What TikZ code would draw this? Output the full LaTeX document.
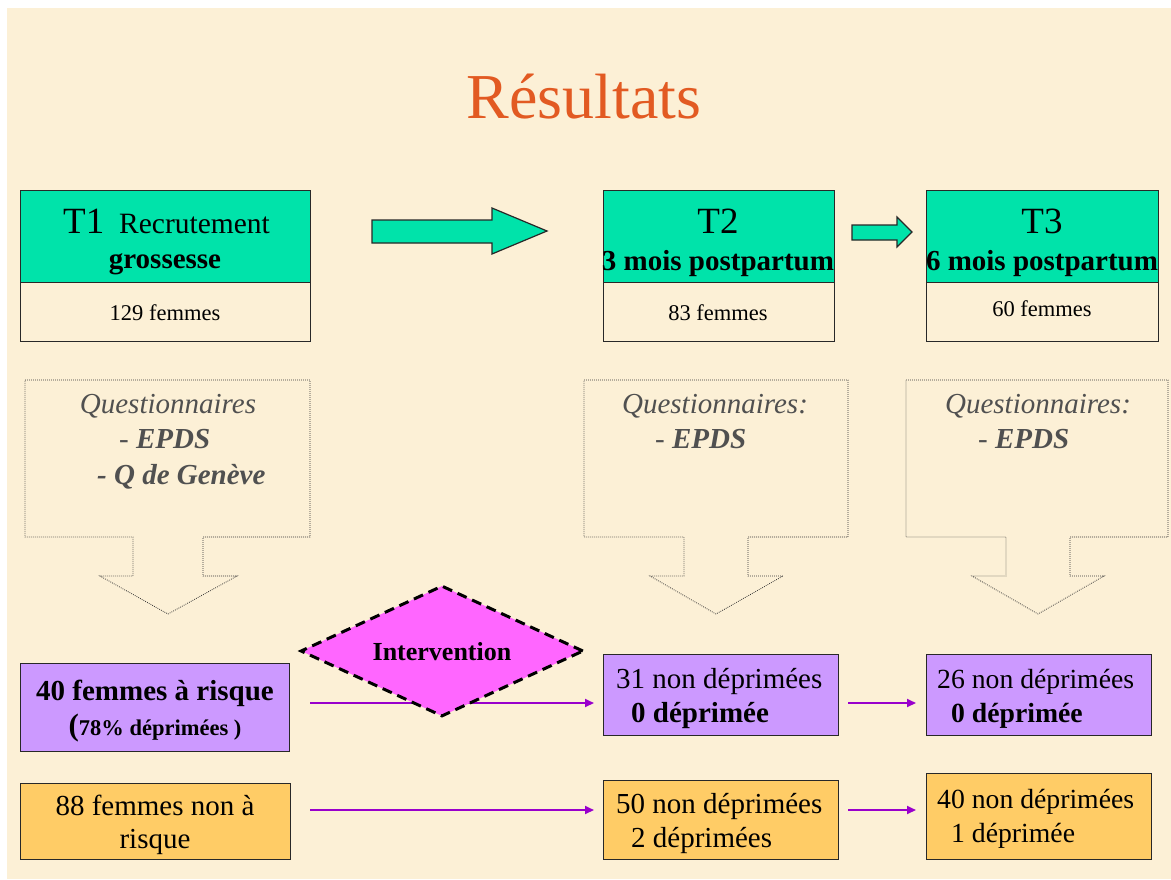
\documentclass[tikz,border=0pt]{standalone}
\usepackage{fontspec}
\setmainfont{Liberation Serif}
\usetikzlibrary{shapes.geometric,arrows.meta}
\newcommand\myfs[1]{\fontsize{#1}{#1}\selectfont}
\definecolor{bgc}{RGB}{252,240,214}
\definecolor{tgreen}{RGB}{0,227,170}
\definecolor{tpurple}{RGB}{204,153,255}
\definecolor{torange}{RGB}{255,204,102}
\definecolor{tmagenta}{RGB}{255,102,255}
\definecolor{arrowc}{RGB}{153,0,204}
\definecolor{titlec}{RGB}{226,90,34}
\definecolor{grayt}{RGB}{80,80,80}
\definecolor{bordc}{RGB}{40,40,40}
\definecolor{dotc}{RGB}{50,50,50}
\tikzset{
  box/.style={draw=bordc, line width=1.3pt, inner sep=0pt, anchor=north west},
  txt/.style={inner sep=0pt, anchor=base},
  txtw/.style={inner sep=0pt, anchor=base west},
  blockarrow/.style={draw=bordc, line width=1.2pt, fill=tgreen},
  callout/.style={draw=dotc, line width=0.8pt, dash pattern=on 0.8pt off 1.2pt},
  parrow/.style={draw=arrowc, line width=1.8pt, -{Triangle[length=9pt,width=8pt]}},
  qtext/.style={txt, text=grayt, font=\myfs{29}\itshape}
}
\begin{document}
\begin{tikzpicture}[x=1pt,y=-1pt]
\useasboundingbox (0,0) rectangle (1171,879);
\fill[white] (0,0) rectangle (1171,879);
\fill[bgc] (7,8) rectangle (1171,879);

% title
\node[txt, text=titlec, font=\myfs{64}] (title) at (584,118) {Résultats};

% T boxes
\node[box, fill=tgreen, minimum width=290pt, minimum height=92pt] (t1a) at (20,190) {};
\node[box, minimum width=290pt, minimum height=59pt] (t1b) at (20,282) {};
\node[box, fill=tgreen, minimum width=231pt, minimum height=92pt] (t2a) at (603,190) {};
\node[box, minimum width=231pt, minimum height=59pt] (t2b) at (603,282) {};
\node[box, fill=tgreen, minimum width=232pt, minimum height=92pt] (t3a) at (926,190) {};
\node[box, minimum width=232pt, minimum height=59pt] (t3b) at (926,282) {};

\node[txtw, font=\myfs{37}] (t1lab) at (63,233) {T1};
\node[txtw, font=\myfs{29.5}] (t1rec) at (119,233) {Recrutement};
\node[txt, font=\myfs{29}\bfseries] (t1gro) at (165,268) {grossesse};
\node[txt, font=\myfs{22.5}] (t1n) at (165,320) {129 femmes};

\node[txt, font=\myfs{37}] (t2lab) at (718,233) {T2};
\node[txt, font=\myfs{29}\bfseries] (t2sub) at (718,270) {3 mois postpartum};
\node[txt, font=\myfs{22.5}] (t2n) at (718,320) {83 femmes};

\node[txt, font=\myfs{37}] (t3lab) at (1042,233) {T3};
\node[txt, font=\myfs{29}\bfseries] (t3sub) at (1042,270) {6 mois postpartum};
\node[txt, font=\myfs{22.5}] (t3n) at (1042,316) {60 femmes};

% block arrows
\draw[blockarrow] (372,220) -- (492,220) -- (492,208) -- (547,231) -- (492,254) -- (492,243) -- (372,243) -- cycle;
\draw[blockarrow] (852,225) -- (897,225) -- (897,217) -- (912,232) -- (897,247) -- (897,240) -- (852,240) -- cycle;

% callouts
\draw[callout] (25,380) -- (310,380) -- (310,537) -- (203,537) -- (203,576) -- (237,576) -- (168,614) -- (100,576) -- (133,576) -- (133,537) -- (25,537) -- cycle;
\draw[callout] (584,380) -- (848,380) -- (848,537) -- (748,537) -- (748,576) -- (783,576) -- (716,614) -- (650,576) -- (684,576) -- (684,537) -- (584,537) -- cycle;
\draw[callout] (906,380) -- (1168,380) -- (1168,537) -- (1070,537) -- (1070,576) -- (1104,576) -- (1038,614) -- (972,576) -- (1006,576) -- (1006,537) -- (906,537) -- cycle;

\node[qtext] (q1) at (168,413) {Questionnaires};
\node[qtext, anchor=base west] (q1a) at (119,448) {- \textbf{EPDS}};
\node[qtext, anchor=base west, font=\myfs{29}\itshape\bfseries] (q1b) at (97,484) {- Q de Genève};
\node[qtext] (q2) at (715,413) {Questionnaires:};
\node[qtext, anchor=base west] (q2a) at (655,448) {- \textbf{EPDS}};
\node[qtext] (q3) at (1038,413) {Questionnaires:};
\node[qtext, anchor=base west] (q3a) at (978,448) {- \textbf{EPDS}};

% bottom boxes
\node[box, fill=tpurple, minimum width=269pt, minimum height=88pt] (b40) at (20,663) {};
\node[box, fill=torange, minimum width=270pt, minimum height=76pt] (b88) at (20,783) {};
\node[box, fill=tpurple, minimum width=235pt, minimum height=81pt] (b31) at (603,654) {};
\node[box, fill=tpurple, minimum width=225pt, minimum height=81pt] (b26) at (926,654) {};
\node[box, fill=torange, minimum width=235pt, minimum height=79pt] (b50) at (603,780) {};
\node[box, fill=torange, minimum width=225pt, minimum height=86pt] (b40b) at (926,773) {};

\node[txt, font=\myfs{29}\bfseries] (b40t1) at (155,700) {40 femmes à risque};
\node[txt, font=\myfs{22.5}\bfseries] (b40t2) at (155,735) {{\myfs{31}(}78\% déprimées )};
\node[txt, font=\myfs{29}] (b88t1) at (155,815) {88 femmes non à};
\node[txt, font=\myfs{29}] (b88t2) at (155,848) {risque};

\node[txtw, font=\myfs{29}] (b31t1) at (616,688) {31 non déprimées};
\node[txtw, font=\myfs{29}\bfseries] (b31t2) at (631,722) {0 déprimée};
\node[txtw, font=\myfs{27.7}] (b26t1) at (937,688) {26 non déprimées};
\node[txtw, font=\myfs{27.7}\bfseries] (b26t2) at (951,722) {0 déprimée};
\node[txtw, font=\myfs{29}] (b50t1) at (616,813) {50 non déprimées};
\node[txtw, font=\myfs{29}] (b50t2) at (631,847) {2 déprimées};
\node[txtw, font=\myfs{27.7}] (b40bt1) at (937,808) {40 non déprimées};
\node[txtw, font=\myfs{27.7}] (b40bt2) at (951,842) {1 déprimée};

% purple arrows
\coordinate (a1s) at (310,703); \coordinate (a1e) at (594,703);
\coordinate (a2s) at (310,810); \coordinate (a2e) at (594,810);
\coordinate (a3s) at (848,703); \coordinate (a3e) at (916,703);
\coordinate (a4s) at (848,810); \coordinate (a4e) at (916,810);
\draw[parrow] (a1s) -- (a1e);
\draw[parrow] (a2s) -- (a2e);
\draw[parrow] (a3s) -- (a3e);
\draw[parrow] (a4s) -- (a4e);

% intervention diamond
\node[diamond, draw=black, fill=tmagenta, line width=3pt, dash pattern=on 10pt off 6pt,
      minimum width=283pt, minimum height=131pt, aspect=2.16, inner sep=0pt] (int) at (442,651) {};
\node[txt, font=\myfs{26}\bfseries] (intt) at (442,660) {Intervention};
\end{tikzpicture}
\end{document}
